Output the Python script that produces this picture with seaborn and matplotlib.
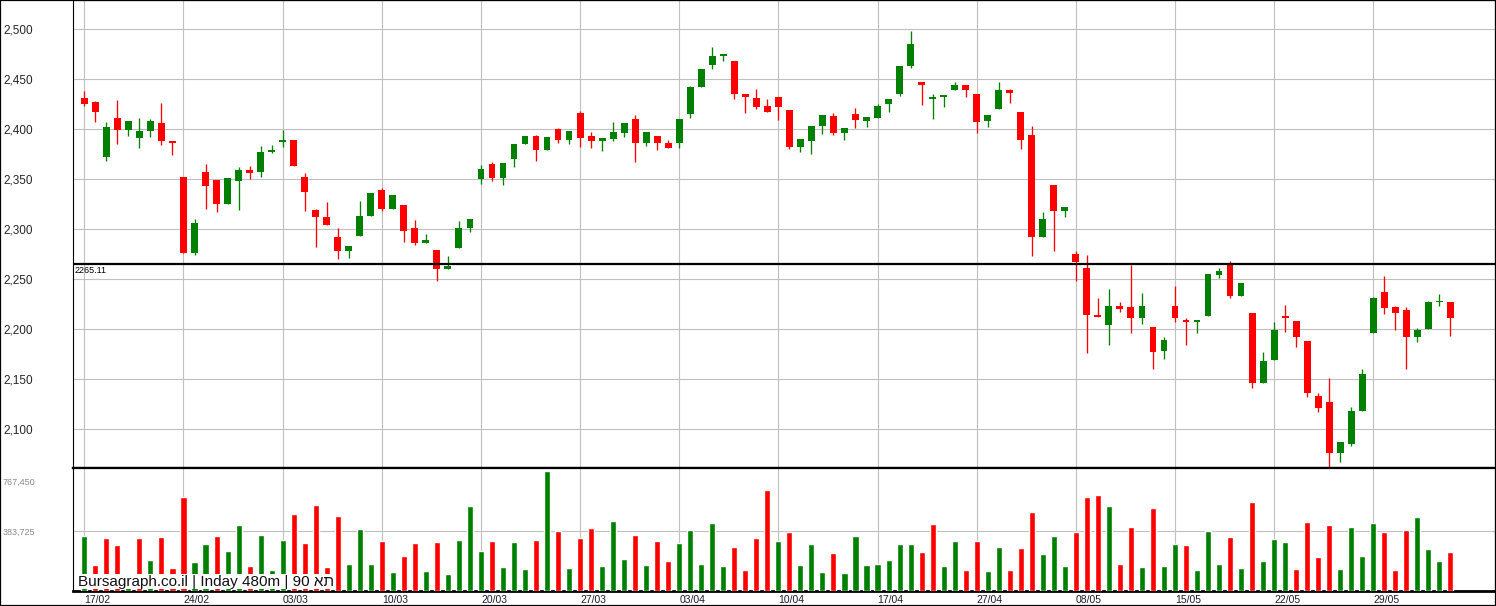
import numpy as np
import pandas as pd
import matplotlib
matplotlib.use("Agg")
import matplotlib.pyplot as plt
import seaborn as sns

# candle data (one bar = 480 minutes)
opens = [2431.3, 2427.0, 2372.6, 2411.3, 2399.6, 2391.6, 2398.6, 2406.3, 2388.3, 2352.3,
         2276.6, 2357.3, 2349.3, 2325.6, 2348.6, 2359.3, 2357.6, 2377.3, 2387.6, 2389.6,
         2352.3, 2319.3, 2312.3, 2292.3, 2278.6, 2293.6, 2313.6, 2339.3, 2320.6, 2324.3,
         2301.3, 2286.6, 2279.3, 2260.6, 2281.6, 2301.6, 2350.6, 2365.3, 2351.6, 2370.6,
         2385.6, 2393.3, 2379.6, 2400.3, 2389.6, 2416.3, 2393.6, 2388.6, 2390.6, 2396.6,
         2410.3, 2386.6, 2393.3, 2386.3, 2386.6, 2415.6, 2442.6, 2464.6, 2473.6, 2468.3,
         2435.3, 2431.3, 2423.3, 2432.3, 2419.3, 2382.6, 2388.6, 2403.6, 2413.3, 2396.6,
         2415.3, 2408.6, 2411.6, 2425.6, 2435.6, 2463.6, 2447.3, 2430.6, 2432.6, 2439.6,
         2444.3, 2435.3, 2408.6, 2420.6, 2439.3, 2417.3, 2394.3, 2292.6, 2344.3, 2318.6,
         2275.3, 2261.3, 2214.6, 2204.6, 2223.3, 2222.3, 2211.6, 2202.3, 2178.6, 2223.3,
         2209.3, 2207.6, 2213.6, 2254.6, 2264.3, 2233.6, 2216.3, 2146.6, 2169.6, 2213.3,
         2208.3, 2188.3, 2133.3, 2127.3, 2076.6, 2085.6, 2118.6, 2196.6, 2237.3, 2222.3,
         2219.3, 2192.6, 2200.6, 2227.3, 2227.3]
highs = [2438.3, 2428.0, 2407.0, 2429.3, 2408.3, 2411.3, 2410.3, 2426.3, 2388.3, 2352.3,
         2310.3, 2365.3, 2349.3, 2351.3, 2362.3, 2363.3, 2383.3, 2384.3, 2399.3, 2389.6,
         2356.3, 2320.3, 2327.3, 2301.3, 2283.3, 2328.3, 2336.3, 2341.3, 2334.3, 2324.3,
         2309.3, 2295.3, 2279.3, 2273.3, 2308.3, 2310.3, 2364.3, 2367.3, 2366.3, 2385.3,
         2393.3, 2394.3, 2392.3, 2401.3, 2398.3, 2418.3, 2397.3, 2391.6, 2407.3, 2406.3,
         2414.3, 2397.3, 2393.3, 2389.3, 2410.3, 2443.3, 2460.3, 2482.3, 2475.3, 2468.3,
         2435.3, 2440.3, 2430.3, 2432.3, 2419.3, 2390.3, 2403.3, 2414.3, 2416.3, 2401.3,
         2421.3, 2412.3, 2425.3, 2430.3, 2463.3, 2498.3, 2447.3, 2435.3, 2433.3, 2447.3,
         2444.3, 2435.3, 2414.3, 2447.3, 2440.3, 2417.3, 2403.3, 2317.3, 2344.3, 2322.3,
         2278.3, 2274.3, 2231.3, 2240.3, 2227.3, 2264.3, 2236.3, 2202.3, 2192.3, 2243.3,
         2211.3, 2209.3, 2255.3, 2261.3, 2268.3, 2246.3, 2216.3, 2177.3, 2207.3, 2224.3,
         2208.3, 2188.3, 2136.3, 2151.3, 2087.3, 2122.3, 2160.3, 2232.3, 2253.3, 2223.3,
         2222.3, 2201.3, 2228.3, 2235.3, 2227.3]
lows = [2423.6, 2407.6, 2368.6, 2385.6, 2393.6, 2381.6, 2392.6, 2384.6, 2374.6, 2276.6,
        2274.6, 2320.6, 2317.6, 2325.6, 2319.6, 2350.6, 2352.6, 2376.0, 2382.3, 2363.6,
        2318.6, 2282.6, 2304.6, 2270.6, 2271.6, 2293.6, 2313.6, 2318.3, 2320.6, 2287.6,
        2284.6, 2286.6, 2248.6, 2260.6, 2281.6, 2297.6, 2345.6, 2348.6, 2344.6, 2362.6,
        2385.6, 2368.6, 2379.6, 2386.6, 2385.6, 2382.6, 2381.6, 2378.6, 2388.6, 2392.6,
        2367.6, 2383.6, 2379.6, 2381.6, 2381.6, 2411.6, 2442.6, 2460.6, 2468.3, 2430.3,
        2416.6, 2420.6, 2417.6, 2409.6, 2380.6, 2377.6, 2375.6, 2395.6, 2394.6, 2389.6,
        2401.6, 2402.6, 2411.6, 2417.6, 2433.6, 2461.6, 2424.6, 2410.6, 2422.6, 2439.6,
        2432.6, 2396.6, 2402.6, 2420.6, 2426.6, 2380.6, 2273.6, 2292.6, 2278.6, 2312.6,
        2248.6, 2176.6, 2212.6, 2184.6, 2217.6, 2196.6, 2205.6, 2160.6, 2170.6, 2207.6,
        2184.6, 2196.6, 2213.6, 2251.6, 2231.6, 2233.6, 2141.6, 2146.6, 2169.6, 2197.6,
        2182.6, 2132.6, 2117.3, 2060.0, 2067.6, 2083.6, 2118.6, 2196.6, 2215.6, 2199.3,
        2160.6, 2187.6, 2200.6, 2223.6, 2193.6]
closes = [2425.6, 2417.6, 2402.3, 2399.6, 2408.3, 2398.3, 2408.3, 2388.6, 2386.6, 2276.6,
          2306.3, 2343.6, 2325.6, 2351.3, 2359.3, 2356.6, 2377.3, 2379.3, 2389.6, 2363.6,
          2337.6, 2312.6, 2304.6, 2278.6, 2283.3, 2313.3, 2336.3, 2320.6, 2334.3, 2298.6,
          2286.6, 2289.3, 2260.6, 2263.6, 2301.3, 2310.3, 2360.3, 2351.6, 2366.3, 2385.3,
          2393.3, 2379.6, 2392.3, 2389.6, 2398.3, 2391.6, 2388.6, 2391.6, 2397.3, 2406.3,
          2386.6, 2397.3, 2386.6, 2381.6, 2410.3, 2442.3, 2460.3, 2473.3, 2475.3, 2435.6,
          2432.6, 2422.6, 2417.6, 2422.6, 2382.6, 2390.3, 2403.3, 2414.3, 2396.6, 2401.3,
          2409.6, 2412.3, 2423.3, 2430.3, 2463.3, 2485.3, 2444.6, 2432.3, 2433.3, 2444.3,
          2439.6, 2407.6, 2414.3, 2439.3, 2436.6, 2389.6, 2292.6, 2310.3, 2318.6, 2322.3,
          2267.6, 2214.6, 2212.6, 2223.3, 2220.3, 2211.6, 2223.3, 2177.6, 2189.3, 2211.6,
          2207.6, 2209.3, 2255.3, 2258.3, 2233.6, 2246.3, 2146.6, 2168.3, 2199.3, 2211.6,
          2192.6, 2136.6, 2121.6, 2076.6, 2087.3, 2118.3, 2155.3, 2231.3, 2221.6, 2216.6,
          2192.6, 2199.3, 2227.3, 2228.3, 2211.6]
volumes = [351600, 165200, 338800, 293800, 90000, 338800, 197300, 345200, 145900, 602300,
           184500, 300200, 351600, 255200, 422300, 158800, 358000, 133100, 325900, 493000,
           306600, 550900, 152300, 480200, 171600, 396600, 171600, 319500, 120200, 223100,
           306600, 126600, 313000, 107300, 325900, 544500, 255200, 319500, 152300, 313000,
           139500, 325900, 767450, 383700, 145900, 338800, 403000, 158800, 448000, 203800,
           358000, 165200, 319500, 190900, 306600, 390200, 171600, 435200, 158800, 280900,
           133100, 338800, 647300, 319500, 377300, 165200, 300200, 120200, 242300, 113800,
           351600, 165200, 171600, 197300, 300200, 300200, 248800, 428700, 158800, 319500,
           133100, 319500, 126600, 280900, 133100, 274500, 505900, 235900, 351600, 158800,
           377300, 602300, 615200, 544500, 171600, 409500, 152300, 531600, 158800, 300200,
           293800, 133100, 383700, 171600, 345200, 145900, 570200, 190900, 332300, 313000,
           139500, 441600, 216600, 422300, 139500, 409500, 223100, 435200, 377300, 133100,
           390200, 473700, 268000, 190900, 248800]

date_labels = ['17/02', '24/02', '03/03', '10/03', '20/03', '27/03', '03/04',
               '10/04', '17/04', '27/04', '08/05', '15/05', '22/05', '29/05']
price_ticks = [2100, 2150, 2200, 2250, 2300, 2350, 2400, 2450, 2500]
ref_level = 2265.11
vol_ticks = [383725, 767450]

GREEN = '#008000'
RED = '#ff0000'
GRID = '#c0c0c0'

df = pd.DataFrame({'open': opens, 'high': highs, 'low': lows,
                   'close': closes, 'volume': volumes})
df['idx'] = np.arange(len(df))
df['up'] = df['close'] >= df['open']
prev = df['close'].shift(1).fillna(df['close'])
df['vol_dir'] = np.where(df['close'] >= prev, 'up', 'down')
tick_pos = list(range(0, len(df), 9))[:len(date_labels)]

sns.set_style("white")
plt.rcParams['font.family'] = ['Liberation Sans', 'DejaVu Sans']

W, H = 1496, 606
fig = plt.figure(figsize=(W / 100, H / 100), dpi=100)
ax_p = fig.add_axes([73 / W, (H - 468) / H, 1422 / W, 468 / H])
ax_v = fig.add_axes([73 / W, (H - 591) / H, 1422 / W, 123 / H])

xlim = (-1.03, 128.05)

# price panel: wicks then bodies
ax_p.vlines(df['idx'], df['low'], df['high'],
            colors=np.where(df['up'], GREEN, RED), lw=0.95, zorder=3)
body_h = np.maximum((df['close'] - df['open']).abs(), 1.3)
body_b = np.minimum(df['open'], df['close'])
ax_p.bar(df['idx'], body_h, bottom=body_b, width=0.62,
         color=np.where(df['up'], GREEN, RED), lw=0, zorder=4)
ax_p.axhline(ref_level, color='black', lw=1.6, zorder=5)
ax_p.text(-0.85, ref_level - 1.8, f"{ref_level:.2f}", fontsize=6.5,
          va='top', ha='left', color='black', zorder=6)

ax_p.set_xlim(*xlim)
ax_p.set_ylim(2061.3, 2529.3)
ax_p.set_yticks(price_ticks)
ax_p.set_yticklabels([f"{v:,}" for v in price_ticks], ha='left', fontsize=8.5)
ax_p.tick_params(axis='y', length=0, pad=50.4)
ax_p.set_xticks(tick_pos)
ax_p.set_xticklabels([])
ax_p.tick_params(axis='x', length=0)
ax_p.grid(True, color=GRID, lw=0.8)
ax_p.set_axisbelow(True)
for s in ax_p.spines.values():
    s.set_color('black')
    s.set_linewidth(0.8)
ax_p.spines['bottom'].set_linewidth(1.6)

# volume panel
sns.barplot(data=df, x='idx', y='volume', hue='vol_dir',
            palette={'up': GREEN, 'down': RED}, dodge=False, width=0.55,
            saturation=1, legend=False, ax=ax_v, zorder=3)
ax_v.set_xlim(*xlim)
ax_v.set_ylim(0, 786800)
ax_v.set_xticks(tick_pos)
ax_v.set_xticklabels(date_labels, ha='left', fontsize=7.5, color='#1c1c2e')
ax_v.tick_params(axis='x', length=0, pad=3.2)
ax_v.set_yticks(vol_ticks[:1])
ax_v.set_yticklabels([f"{vol_ticks[0]:,}"], ha='left', fontsize=6.5, color='#8a8a8a')
ax_v.tick_params(axis='y', length=0, pad=50.4)
ax_v.set_xlabel('')
ax_v.set_ylabel('')
ax_v.grid(True, color=GRID, lw=0.8)
ax_v.set_axisbelow(True)
for s in ax_v.spines.values():
    s.set_color('black')
    s.set_linewidth(0.8)
ax_v.spines['top'].set_linewidth(1.6)
ax_v.spines['bottom'].set_linewidth(2.0)
fig.text(3 / W, 1 - 482.7 / H, f"{vol_ticks[1]:,}", fontsize=6.5,
         color='#8a8a8a', va='center', ha='left')

ax_v.text(5 / 1422, 0.02, "Bursagraph.co.il | Inday 480m | 90 את",
          transform=ax_v.transAxes, fontsize=11, color='#111111',
          ha='left', va='bottom', zorder=10,
          bbox=dict(facecolor='white', edgecolor='none', pad=0.6))

fig.add_artist(plt.Rectangle((0, 0), 1, 1, transform=fig.transFigure,
                             fill=False, ec='black', lw=1.6))

fig.savefig('out.png', dpi=100, facecolor='white')
